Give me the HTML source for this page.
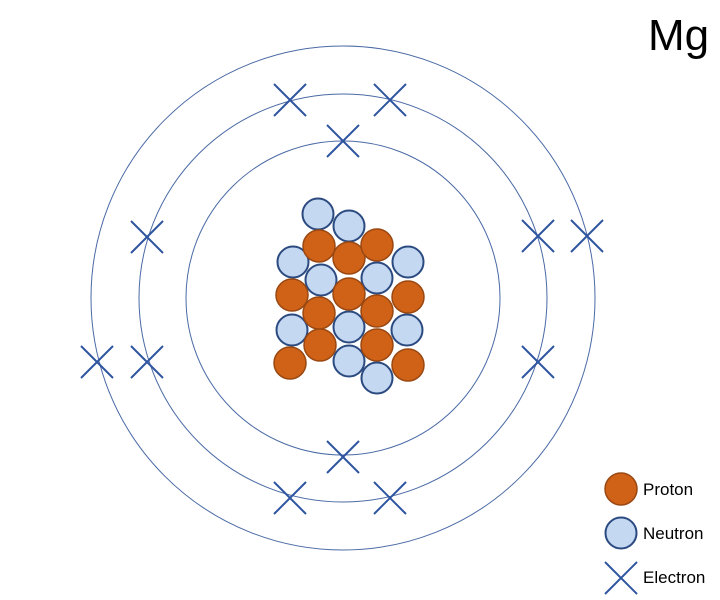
<!DOCTYPE html>
<html><head><style>body{margin:0;background:#fff}svg{display:block}</style></head><body>
<svg width="720" height="600" viewBox="0 0 720 600" xmlns="http://www.w3.org/2000/svg">
<g fill="none" stroke="#4a6aa5" stroke-width="1">
<circle cx="343" cy="298" r="252"/>
<circle cx="343" cy="298" r="204"/>
<circle cx="343" cy="298" r="157"/>
</g>
<g stroke="#2f55a0" stroke-width="2" fill="none">
<path d="M-16,-16L16,16M16,-16L-16,16" transform="translate(290,100)"/>
<path d="M-16,-16L16,16M16,-16L-16,16" transform="translate(390,100)"/>
<path d="M-16,-16L16,16M16,-16L-16,16" transform="translate(343,141)"/>
<path d="M-16,-16L16,16M16,-16L-16,16" transform="translate(147,237)"/>
<path d="M-16,-16L16,16M16,-16L-16,16" transform="translate(538,236)"/>
<path d="M-16,-16L16,16M16,-16L-16,16" transform="translate(587,236)"/>
<path d="M-16,-16L16,16M16,-16L-16,16" transform="translate(97,362)"/>
<path d="M-16,-16L16,16M16,-16L-16,16" transform="translate(147,362)"/>
<path d="M-16,-16L16,16M16,-16L-16,16" transform="translate(538,362)"/>
<path d="M-16,-16L16,16M16,-16L-16,16" transform="translate(343,457)"/>
<path d="M-16,-16L16,16M16,-16L-16,16" transform="translate(290,498)"/>
<path d="M-16,-16L16,16M16,-16L-16,16" transform="translate(390,498)"/>
<path d="M-16,-16L16,16M16,-16L-16,16" transform="translate(621,578)"/>
</g>
<g fill="#c5d8f2" stroke="#2b4a80" stroke-width="2">
<circle cx="318" cy="214" r="15.5"/>
<circle cx="349" cy="226" r="15.5"/>
<circle cx="293" cy="262" r="15.5"/>
<circle cx="321" cy="280" r="15.5"/>
<circle cx="377" cy="278" r="15.5"/>
<circle cx="408" cy="262" r="15.5"/>
<circle cx="292" cy="330" r="15.5"/>
<circle cx="349" cy="327" r="15.5"/>
<circle cx="407" cy="330" r="15.5"/>
<circle cx="349" cy="361" r="15.5"/>
<circle cx="377" cy="378" r="15.5"/>
<circle cx="621" cy="533" r="15.5"/>
</g>
<g fill="#d06218" stroke="#9a4812" stroke-width="1.5">
<circle cx="319" cy="246" r="16"/>
<circle cx="349" cy="258" r="16"/>
<circle cx="377" cy="245" r="16"/>
<circle cx="292" cy="295" r="16"/>
<circle cx="349" cy="294" r="16"/>
<circle cx="408" cy="297" r="16"/>
<circle cx="319" cy="313" r="16"/>
<circle cx="377" cy="311" r="16"/>
<circle cx="320" cy="345" r="16"/>
<circle cx="377" cy="345" r="16"/>
<circle cx="290" cy="363" r="16"/>
<circle cx="408" cy="365" r="16"/>
<circle cx="621" cy="489" r="16"/>
</g>
<g font-family="Liberation Sans, sans-serif" fill="#000">
<text x="648" y="50" font-size="44">Mg</text>
<text x="643" y="495" font-size="17">Proton</text>
<text x="643" y="539" font-size="17">Neutron</text>
<text x="643" y="583" font-size="17">Electron</text>
</g>
</svg>
</body></html>
